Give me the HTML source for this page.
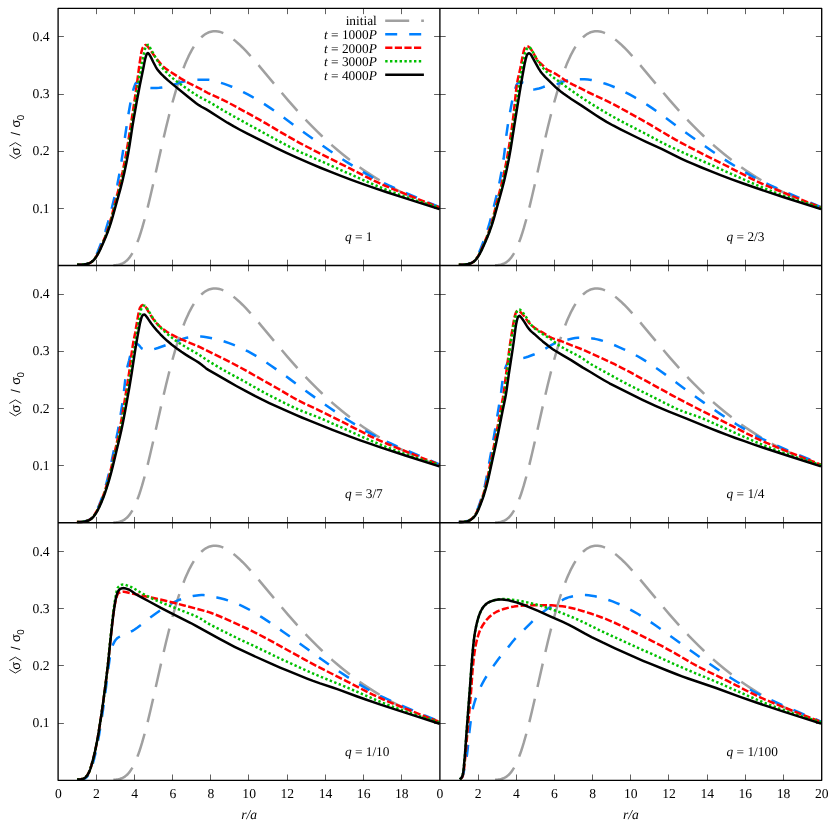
<!DOCTYPE html>
<html><head><meta charset="utf-8"><title>chart</title>
<style>html,body{margin:0;padding:0;background:#fff}svg{display:block;will-change:transform}text{text-rendering:geometricPrecision}</style></head>
<body>
<svg width="830" height="830" viewBox="0 0 830 830">
<rect width="830" height="830" fill="#fff"/>
<defs>
<clipPath id="c0"><rect x="58.30" y="8.15" width="381.70" height="258.45"/></clipPath>
<clipPath id="c1"><rect x="440.00" y="8.15" width="381.70" height="258.45"/></clipPath>
<clipPath id="c2"><rect x="58.30" y="265.40" width="381.70" height="258.45"/></clipPath>
<clipPath id="c3"><rect x="440.00" y="265.40" width="381.70" height="258.45"/></clipPath>
<clipPath id="c4"><rect x="58.30" y="522.65" width="381.70" height="258.45"/></clipPath>
<clipPath id="c5"><rect x="440.00" y="522.65" width="381.70" height="258.45"/></clipPath>
</defs>
<g clip-path="url(#c0)" fill="none" stroke-width="2.50" stroke-linejoin="round">
<path d="M101.38 265.40 L111.56 265.35 L114.28 265.24 L116.31 265.07 L118.35 264.76 L119.71 264.45 L121.74 263.78 L123.10 263.16 L124.46 262.37 L125.14 261.90 L126.49 260.81 L127.85 259.49 L129.21 257.92 L130.56 256.07 L131.92 253.94 L133.28 251.51 L134.64 248.78 L136.67 244.09 L138.03 240.57 L139.39 236.74 L140.74 232.62 L142.10 228.21 L144.81 218.61 L147.53 208.09 L150.24 196.83 L152.96 185.04 L162.54 142.44 L166.00 127.73 L168.78 116.47 L172.27 103.19 L175.07 93.31 L177.17 86.37 L178.57 81.98 L181.38 73.77 L182.78 69.95 L184.88 64.60 L186.29 61.27 L188.39 56.65 L189.79 53.80 L191.89 49.89 L193.99 46.40 L196.08 43.31 L197.48 41.47 L199.56 39.03 L201.64 36.95 L203.72 35.22 L205.78 33.82 L207.84 32.74 L209.90 31.95 L211.94 31.45 L213.29 31.27 L214.65 31.20 L216.01 31.23 L218.04 31.48 L219.40 31.77 L220.76 32.15 L222.12 32.61 L224.15 33.47 L225.51 34.13 L227.55 35.27 L230.94 37.49 L232.97 39.01 L235.01 40.64 L239.08 44.22 L242.47 47.49 L245.87 50.95 L249.26 54.59 L253.33 59.14 L260.80 67.81 L279.12 89.74 L287.94 100.09 L297.44 110.85 L302.19 116.04 L306.94 121.10 L312.37 126.69 L317.12 131.43 L321.87 136.02 L327.30 141.07 L332.05 145.34 L337.48 150.02 L342.90 154.52 L348.33 158.83 L353.08 162.45 L358.51 166.42 L363.94 170.22 L369.37 173.85 L374.80 177.33 L380.23 180.65 L385.66 183.83 L391.76 187.23 L397.19 190.12 L403.30 193.22 L409.41 196.16 L415.51 198.96 L421.62 201.62 L428.41 204.43 L434.51 206.82 L441.30 209.35" stroke="#a0a0a0" stroke-dasharray="24 12" stroke-dashoffset="24"/>
<path d="M77.10 264.80 L79.81 264.72 L83.41 264.46 L85.21 264.21 L87.83 263.60 L89.52 262.90 L91.05 261.96 L91.73 261.41 L92.99 260.08 L94.09 258.61 L95.47 256.36 L96.70 253.97 L97.81 251.47 L102.12 240.49 L103.66 236.24 L105.39 231.10 L108.02 222.48 L110.61 212.90 L114.72 196.24 L116.16 190.09 L117.31 184.80 L119.18 175.06 L121.14 163.49 L122.80 152.79 L125.43 134.03 L127.69 118.85 L128.85 111.73 L130.94 100.11 L132.22 93.86 L133.36 89.52 L134.18 87.01 L135.25 84.18 L135.72 83.28 L136.25 82.71 L136.84 82.62 L137.57 82.82 L138.41 83.18 L141.87 84.94 L144.26 86.28 L145.07 86.67 L146.75 87.21 L148.51 87.64 L150.31 87.93 L153.01 88.06 L156.62 88.09 L159.32 87.86 L162.90 87.37 L164.67 87.05 L167.32 86.46 L169.07 86.03 L171.67 85.27 L175.98 83.92 L180.26 82.46 L181.98 81.93 L183.72 81.50 L187.27 80.82 L191.75 80.22 L197.14 79.81 L202.30 79.67 L206.80 79.72 L208.80 79.85 L210.80 80.17 L214.30 80.94 L216.80 81.60 L220.80 82.79 L224.30 83.93 L228.30 85.37 L231.80 86.74 L235.30 88.24 L239.30 90.08 L243.30 92.07 L247.80 94.44 L252.30 96.92 L257.30 99.80 L261.80 102.51 L266.30 105.35 L270.80 108.35 L275.30 111.49 L280.80 115.49 L300.80 130.28 L323.80 146.55 L329.80 150.72 L339.30 157.15 L347.30 162.35 L357.30 168.56 L366.30 173.93 L371.80 177.03 L376.80 179.65 L382.30 182.34 L389.30 185.58 L397.30 189.15 L406.30 193.06 L439.30 207.07" stroke="#0080ff" stroke-dasharray="12 12" stroke-dashoffset="0"/>
<path d="M77.10 264.80 L80.01 264.71 L83.86 264.42 L86.76 263.98 L88.60 263.52 L89.51 263.15 L90.39 262.69 L91.98 261.64 L92.71 261.01 L94.05 259.55 L95.20 258.01 L96.72 255.60 L98.08 253.04 L99.73 249.49 L102.82 242.34 L105.01 236.96 L107.05 231.51 L108.88 226.01 L110.25 221.38 L111.51 216.72 L115.06 202.62 L118.51 189.52 L119.92 183.89 L122.65 171.61 L125.29 158.32 L126.83 149.75 L128.43 140.21 L133.20 109.62 L136.70 85.68 L139.30 65.52 L140.91 54.82 L141.44 51.89 L142.16 49.20 L142.46 48.39 L142.89 47.54 L143.52 46.62 L144.27 45.77 L145.06 45.14 L145.79 44.90 L146.48 45.14 L147.17 45.77 L150.32 49.90 L153.03 53.92 L157.62 60.16 L160.71 63.90 L162.01 65.34 L163.38 66.70 L165.61 68.53 L169.59 71.30 L181.02 78.60 L186.00 81.56 L189.42 83.36 L198.90 88.02 L200.90 89.10 L205.40 91.69 L207.90 93.01 L222.90 99.97 L227.40 102.17 L231.40 104.24 L237.40 107.49 L259.40 119.66 L266.40 123.70 L285.40 134.95 L292.90 139.20 L299.90 143.03 L307.40 146.99 L317.40 152.14 L330.40 158.72 L349.90 168.48 L369.40 178.47 L374.40 180.89 L379.90 183.44 L385.90 186.08 L391.90 188.60 L421.90 200.65 L429.90 203.75 L439.40 207.31" stroke="#ff0000" stroke-dasharray="7.2 2.4" stroke-dashoffset="0"/>
<path d="M77.10 264.80 L80.02 264.71 L83.88 264.42 L86.79 263.98 L88.64 263.51 L89.55 263.13 L90.43 262.67 L92.02 261.62 L92.76 260.99 L94.12 259.54 L95.30 258.02 L96.85 255.63 L98.25 253.08 L99.95 249.53 L103.12 242.39 L105.38 237.02 L107.47 231.57 L109.37 226.07 L110.52 222.38 L111.86 217.72 L115.83 202.68 L119.92 187.70 L121.57 181.11 L123.90 170.70 L125.28 164.04 L126.57 157.37 L128.72 144.94 L132.45 120.96 L136.76 94.13 L137.89 86.45 L138.71 79.69 L139.16 76.83 L139.63 74.95 L140.53 72.17 L140.77 71.24 L141.12 69.34 L141.92 63.56 L142.40 60.69 L143.19 56.89 L144.37 52.18 L144.91 49.29 L145.15 48.37 L145.47 47.44 L145.91 46.51 L146.46 45.74 L147.24 45.15 L148.15 44.80 L148.75 45.04 L149.26 45.73 L150.58 48.89 L151.07 49.78 L153.16 53.06 L155.88 58.20 L160.04 64.77 L161.14 66.36 L162.37 67.86 L164.98 70.74 L169.74 75.59 L171.88 77.55 L176.44 81.18 L181.91 85.21 L190.69 91.30 L196.37 95.04 L200.44 97.44 L206.44 100.46 L208.94 101.84 L223.94 110.79 L231.94 115.38 L269.44 136.02 L282.44 143.06 L288.44 146.20 L293.94 148.99 L298.94 151.40 L304.44 153.91 L322.44 161.77 L351.44 174.77 L365.44 180.97 L375.94 185.48 L385.94 189.58 L397.44 194.01 L408.44 197.93 L421.44 202.21 L439.44 207.84" stroke="#00c000" stroke-dasharray="2.4 2.4" stroke-dashoffset="0"/>
<path d="M77.10 264.80 L79.96 264.71 L83.76 264.43 L86.60 264.01 L88.43 263.58 L89.32 263.23 L90.19 262.80 L91.79 261.79 L93.24 260.55 L94.55 259.12 L96.21 256.87 L97.69 254.46 L99.04 251.92 L100.71 248.43 L103.46 242.34 L105.70 237.07 L107.78 231.74 L109.68 226.36 L111.14 221.83 L112.75 216.36 L120.39 188.81 L122.29 181.44 L124.43 172.16 L126.40 162.84 L128.17 153.49 L129.58 145.04 L132.33 127.16 L133.56 119.64 L136.70 101.83 L139.88 84.98 L143.33 68.20 L144.60 61.62 L145.22 58.84 L145.97 56.10 L146.61 54.26 L147.09 53.49 L147.88 53.01 L148.64 53.62 L149.24 54.35 L149.76 55.16 L151.14 57.67 L153.22 61.96 L155.88 67.04 L156.86 68.65 L158.57 70.93 L161.10 73.80 L163.78 76.49 L168.02 80.33 L173.11 84.63 L188.60 97.28 L196.11 103.15 L198.92 105.18 L201.42 106.74 L205.92 109.19 L208.42 110.66 L219.92 118.05 L227.42 122.70 L233.42 126.19 L239.92 129.76 L247.42 133.68 L256.42 138.21 L275.42 147.62 L285.92 152.63 L296.92 157.62 L308.92 162.87 L320.42 167.73 L331.42 172.21 L340.92 175.92 L351.42 179.85 L362.42 183.82 L373.92 187.82 L386.92 192.20 L401.92 197.13 L439.42 209.14" stroke="#000000"/>
</g>
<g clip-path="url(#c1)" fill="none" stroke-width="2.50" stroke-linejoin="round">
<path d="M483.08 265.40 L493.26 265.35 L495.98 265.24 L498.01 265.07 L500.05 264.76 L501.41 264.45 L503.44 263.78 L504.80 263.16 L506.16 262.37 L506.84 261.90 L508.19 260.81 L509.55 259.49 L510.91 257.92 L512.26 256.07 L513.62 253.94 L514.98 251.51 L516.34 248.78 L518.37 244.09 L519.73 240.57 L521.09 236.74 L522.44 232.62 L523.80 228.21 L526.51 218.61 L529.23 208.09 L531.94 196.83 L534.66 185.04 L544.24 142.44 L547.70 127.73 L550.48 116.47 L553.97 103.19 L556.77 93.31 L558.87 86.37 L560.27 81.98 L563.08 73.77 L564.48 69.95 L566.58 64.60 L567.99 61.27 L570.09 56.65 L571.49 53.80 L573.59 49.89 L575.69 46.40 L577.78 43.31 L579.18 41.47 L581.26 39.03 L583.34 36.95 L585.42 35.22 L587.48 33.82 L589.54 32.74 L591.60 31.95 L593.64 31.45 L594.99 31.27 L596.35 31.20 L597.71 31.23 L599.74 31.48 L601.10 31.77 L602.46 32.15 L603.82 32.61 L605.85 33.47 L607.21 34.13 L609.25 35.27 L612.64 37.49 L614.67 39.01 L616.71 40.64 L620.78 44.22 L624.17 47.49 L627.57 50.95 L630.96 54.59 L635.03 59.14 L642.50 67.81 L660.82 89.74 L669.64 100.09 L679.14 110.85 L683.89 116.04 L688.64 121.10 L694.07 126.69 L698.82 131.43 L703.57 136.02 L709.00 141.07 L713.75 145.34 L719.18 150.02 L724.60 154.52 L730.03 158.83 L734.78 162.45 L740.21 166.42 L745.64 170.22 L751.07 173.85 L756.50 177.33 L761.93 180.65 L767.36 183.83 L773.46 187.23 L778.89 190.12 L785.00 193.22 L791.11 196.16 L797.21 198.96 L803.32 201.62 L810.11 204.43 L816.21 206.82 L823.00 209.35" stroke="#a0a0a0" stroke-dasharray="24 12" stroke-dashoffset="24"/>
<path d="M458.80 264.80 L461.52 264.72 L465.12 264.46 L466.92 264.21 L469.55 263.60 L471.25 262.88 L472.77 261.95 L473.45 261.39 L474.72 260.05 L475.81 258.58 L477.19 256.32 L478.03 254.74 L479.17 252.27 L480.57 248.87 L483.53 241.26 L485.09 237.01 L486.55 232.73 L487.94 228.42 L489.50 223.24 L490.96 218.01 L492.57 211.89 L497.08 193.44 L498.48 187.27 L499.76 181.07 L501.90 169.52 L503.62 158.80 L504.56 151.64 L506.33 135.46 L507.87 124.72 L509.69 114.02 L511.86 102.42 L512.77 97.96 L513.60 94.43 L514.30 91.83 L515.08 89.27 L516.34 85.47 L516.74 84.54 L517.19 83.78 L517.69 83.26 L518.26 83.03 L519.06 82.87 L520.00 82.75 L521.98 82.61 L522.84 82.64 L523.65 82.90 L524.44 83.34 L527.52 85.55 L530.44 88.12 L531.18 88.68 L531.93 89.11 L532.71 89.36 L533.53 89.39 L535.29 89.23 L538.91 88.53 L540.63 88.01 L543.19 87.05 L544.91 86.52 L547.56 85.92 L554.68 84.58 L557.31 83.94 L559.01 83.36 L564.05 81.20 L565.75 80.64 L566.62 80.43 L570.17 79.84 L573.79 79.45 L580.02 79.31 L584.52 79.36 L588.02 79.58 L591.02 79.90 L593.52 80.36 L596.52 81.05 L601.02 82.33 L605.52 83.77 L609.52 85.19 L613.52 86.75 L617.02 88.24 L621.02 90.09 L625.02 92.08 L629.52 94.45 L634.02 96.93 L639.02 99.81 L643.52 102.52 L648.02 105.36 L652.52 108.36 L657.02 111.51 L662.52 115.50 L682.52 130.29 L705.52 146.56 L711.52 150.73 L721.02 157.16 L729.02 162.36 L739.02 168.57 L748.02 173.94 L753.52 177.04 L758.52 179.65 L764.02 182.34 L771.02 185.59 L779.02 189.16 L788.02 193.07 L821.02 207.08" stroke="#0080ff" stroke-dasharray="12 12" stroke-dashoffset="-2.0"/>
<path d="M458.80 264.80 L461.70 264.71 L465.55 264.42 L468.43 263.99 L470.27 263.53 L471.18 263.16 L472.06 262.71 L473.65 261.67 L474.37 261.04 L475.72 259.59 L476.87 258.05 L478.39 255.65 L479.75 253.10 L481.40 249.56 L484.85 241.54 L486.67 237.06 L488.71 231.63 L490.54 226.15 L491.91 221.53 L493.17 216.88 L496.71 202.82 L501.10 186.01 L503.28 176.61 L505.48 166.22 L507.12 157.69 L508.59 149.14 L510.11 139.61 L511.65 129.10 L512.96 119.54 L513.55 114.75 L516.10 90.73 L516.85 85.00 L517.60 80.25 L518.19 77.42 L520.00 69.90 L523.11 53.75 L523.76 50.93 L524.33 49.12 L524.73 48.18 L525.24 47.37 L525.94 46.78 L526.88 46.34 L527.76 46.41 L528.63 46.91 L530.12 48.17 L531.33 49.71 L532.40 51.32 L536.16 58.09 L536.67 58.90 L537.81 60.45 L539.73 62.63 L540.41 63.30 L543.29 65.88 L546.00 68.67 L546.74 69.26 L547.54 69.76 L551.91 71.86 L556.95 74.71 L559.39 76.27 L565.75 80.67 L569.04 82.65 L572.45 84.44 L580.76 88.48 L588.76 92.51 L603.76 99.40 L608.26 101.59 L612.76 103.90 L619.26 107.41 L642.26 120.14 L649.26 124.20 L669.26 136.08 L675.76 139.80 L682.26 143.37 L689.26 147.08 L698.76 151.96 L712.26 158.80 L731.76 168.56 L751.26 178.55 L756.26 180.97 L761.76 183.51 L767.76 186.15 L773.76 188.67 L803.76 200.71 L811.76 203.81 L821.26 207.37" stroke="#ff0000" stroke-dasharray="7.2 2.4" stroke-dashoffset="0"/>
<path d="M458.80 264.80 L461.70 264.71 L465.54 264.42 L468.43 263.99 L470.27 263.53 L471.17 263.17 L472.05 262.71 L473.65 261.68 L474.38 261.06 L475.74 259.63 L476.93 258.12 L478.48 255.75 L479.88 253.22 L481.57 249.70 L485.11 241.73 L487.34 236.37 L489.40 230.95 L491.26 225.49 L492.39 221.81 L493.71 217.17 L497.65 202.23 L502.20 185.48 L503.34 180.80 L504.84 174.21 L507.40 161.93 L509.48 150.55 L511.77 136.27 L514.75 116.23 L518.03 92.34 L519.74 80.90 L520.38 77.10 L522.49 65.72 L524.50 55.25 L525.22 52.48 L525.87 50.65 L526.30 49.74 L526.80 48.91 L527.38 48.21 L528.18 47.52 L529.03 47.20 L529.82 47.57 L530.59 48.33 L531.22 49.07 L531.76 49.85 L534.09 54.12 L537.23 60.10 L538.77 62.55 L540.47 64.89 L542.29 67.13 L545.52 70.72 L547.59 72.73 L549.80 74.61 L552.06 76.41 L554.37 78.15 L567.63 87.81 L576.30 93.91 L584.06 99.17 L591.06 103.67 L599.56 108.89 L608.06 113.89 L616.06 118.40 L626.06 123.75 L644.06 132.99 L660.56 141.81 L665.56 144.37 L671.06 147.05 L681.56 151.89 L703.56 161.51 L733.56 174.95 L748.06 181.38 L757.56 185.45 L766.06 188.95 L774.56 192.29 L782.56 195.27 L789.56 197.74 L797.56 200.41 L808.56 203.93 L821.06 207.82" stroke="#00c000" stroke-dasharray="2.4 2.4" stroke-dashoffset="0"/>
<path d="M458.80 264.80 L461.66 264.71 L465.46 264.43 L468.31 264.01 L470.14 263.57 L471.03 263.23 L471.90 262.79 L473.51 261.79 L474.96 260.54 L476.27 259.10 L477.93 256.85 L479.40 254.44 L480.75 251.90 L482.42 248.40 L485.18 242.30 L487.41 237.03 L489.49 231.69 L491.40 226.31 L492.85 221.78 L494.47 216.30 L502.12 188.73 L504.01 181.35 L506.36 171.13 L508.67 159.93 L510.55 149.62 L511.92 141.16 L514.83 122.31 L519.65 92.20 L522.20 77.17 L524.60 64.03 L525.63 59.39 L526.38 56.56 L526.69 55.66 L527.07 54.82 L527.61 54.06 L528.36 53.47 L529.27 53.20 L530.10 53.70 L530.71 54.42 L531.76 56.02 L538.70 68.53 L540.20 70.97 L541.30 72.51 L543.13 74.71 L545.07 76.81 L549.19 80.79 L555.28 86.83 L557.39 88.75 L560.34 91.15 L563.38 93.46 L568.03 96.79 L571.18 98.94 L581.55 105.60 L595.55 114.93 L600.05 117.85 L606.55 121.83 L613.05 125.47 L620.55 129.32 L638.05 138.00 L645.55 141.58 L661.55 148.95 L676.55 156.41 L681.55 158.82 L687.05 161.33 L693.05 163.94 L701.55 167.51 L710.55 171.18 L720.55 175.12 L731.05 179.09 L742.55 183.26 L754.05 187.28 L767.55 191.84 L783.05 196.95 L821.05 209.12" stroke="#000000"/>
</g>
<g clip-path="url(#c2)" fill="none" stroke-width="2.50" stroke-linejoin="round">
<path d="M101.38 522.65 L111.56 522.60 L114.28 522.49 L116.31 522.32 L118.35 522.01 L119.71 521.70 L121.74 521.03 L123.10 520.41 L124.46 519.62 L125.14 519.15 L126.49 518.06 L127.85 516.74 L129.21 515.17 L130.56 513.32 L131.92 511.19 L133.28 508.76 L134.64 506.03 L136.67 501.34 L138.03 497.82 L139.39 493.99 L140.74 489.87 L142.10 485.46 L144.81 475.86 L147.53 465.34 L150.24 454.08 L152.96 442.29 L162.54 399.69 L166.00 384.98 L168.78 373.72 L172.27 360.44 L175.07 350.56 L177.17 343.62 L178.57 339.23 L181.38 331.02 L182.78 327.20 L184.88 321.85 L186.29 318.52 L188.39 313.90 L189.79 311.05 L191.89 307.14 L193.99 303.65 L196.08 300.56 L197.48 298.72 L199.56 296.28 L201.64 294.20 L203.72 292.47 L205.78 291.07 L207.84 289.99 L209.90 289.20 L211.94 288.70 L213.29 288.52 L214.65 288.45 L216.01 288.48 L218.04 288.73 L219.40 289.02 L220.76 289.40 L222.12 289.86 L224.15 290.72 L225.51 291.38 L227.55 292.52 L230.94 294.74 L232.97 296.26 L235.01 297.89 L239.08 301.47 L242.47 304.74 L245.87 308.20 L249.26 311.84 L253.33 316.39 L260.80 325.06 L279.12 346.99 L287.94 357.34 L297.44 368.10 L302.19 373.29 L306.94 378.35 L312.37 383.94 L317.12 388.68 L321.87 393.27 L327.30 398.32 L332.05 402.59 L337.48 407.27 L342.90 411.77 L348.33 416.08 L353.08 419.70 L358.51 423.67 L363.94 427.47 L369.37 431.10 L374.80 434.58 L380.23 437.90 L385.66 441.08 L391.76 444.48 L397.19 447.37 L403.30 450.47 L409.41 453.41 L415.51 456.21 L421.62 458.87 L428.41 461.68 L434.51 464.07 L441.30 466.60" stroke="#a0a0a0" stroke-dasharray="24 12" stroke-dashoffset="24"/>
<path d="M76.58 522.05 L79.30 521.97 L82.89 521.71 L83.79 521.58 L85.58 521.19 L87.30 520.68 L88.13 520.36 L88.95 519.95 L90.49 518.95 L91.82 517.79 L93.01 516.40 L94.56 514.15 L95.92 511.85 L97.56 508.63 L99.05 505.29 L100.41 501.91 L101.98 497.69 L103.41 493.41 L105.00 488.22 L106.47 482.98 L108.06 476.86 L109.54 470.71 L112.23 458.35 L116.08 439.76 L117.83 430.89 L120.17 417.55 L122.25 404.15 L123.59 394.30 L125.45 378.14 L126.22 372.77 L126.85 369.22 L127.45 366.58 L129.07 360.46 L130.76 353.39 L131.45 350.78 L133.27 345.18 L133.66 344.19 L134.09 343.41 L134.58 342.94 L135.13 342.88 L135.87 343.14 L136.73 343.62 L138.39 344.71 L139.06 345.31 L140.88 347.49 L141.51 348.15 L142.18 348.67 L143.73 349.38 L145.48 349.97 L147.32 350.37 L148.22 350.44 L149.10 350.43 L149.98 350.31 L151.75 349.88 L157.83 348.03 L179.09 340.37 L183.36 338.73 L185.94 337.89 L186.80 337.68 L188.56 337.39 L193.94 336.79 L197.57 336.53 L201.09 336.47 L203.59 336.67 L206.59 337.15 L213.09 338.44 L217.09 339.38 L221.09 340.47 L225.09 341.70 L229.09 343.09 L233.09 344.62 L236.59 346.06 L240.59 347.82 L244.59 349.70 L248.09 351.46 L251.59 353.33 L255.09 355.34 L258.59 357.46 L262.59 360.00 L271.09 365.70 L280.59 372.35 L289.59 378.88 L301.09 387.52 L305.59 390.83 L322.59 402.95 L329.59 407.82 L339.09 414.25 L347.09 419.47 L356.59 425.37 L366.09 431.06 L371.59 434.16 L376.59 436.79 L382.09 439.48 L389.09 442.73 L397.09 446.31 L406.09 450.22 L439.59 464.44" stroke="#0080ff" stroke-dasharray="12 12" stroke-dashoffset="-3.8"/>
<path d="M76.79 522.05 L79.69 521.97 L83.52 521.66 L85.43 521.28 L87.28 520.76 L88.17 520.44 L89.05 520.02 L89.90 519.53 L91.43 518.40 L92.78 517.03 L93.40 516.27 L94.54 514.68 L96.04 512.26 L97.42 509.73 L99.09 506.22 L100.98 501.74 L102.69 497.26 L104.27 492.72 L105.73 488.12 L107.37 482.56 L108.90 476.99 L110.10 472.33 L111.46 466.71 L117.97 437.56 L119.36 430.96 L120.65 424.35 L122.81 412.02 L128.09 379.69 L129.33 371.12 L131.67 352.96 L132.79 345.34 L133.44 341.55 L135.15 333.05 L137.86 316.89 L138.39 314.05 L139.22 310.21 L139.78 308.37 L140.15 307.56 L140.69 306.70 L141.41 305.84 L142.20 305.23 L142.96 305.06 L143.77 305.39 L144.60 306.03 L146.01 307.50 L146.55 308.27 L149.98 314.14 L151.54 316.56 L153.21 318.94 L154.95 321.28 L156.17 322.77 L157.44 324.19 L158.79 325.52 L160.22 326.81 L161.71 328.05 L164.04 329.81 L167.21 331.98 L168.85 332.99 L171.37 334.41 L176.52 337.05 L180.89 339.07 L187.97 342.13 L196.89 345.78 L200.53 347.40 L207.53 350.96 L222.03 358.07 L231.53 362.84 L239.53 367.03 L246.53 370.88 L262.03 379.79 L278.03 388.75 L292.53 397.28 L298.53 400.60 L304.53 403.60 L317.03 409.38 L324.53 413.00 L349.53 425.54 L365.53 433.77 L371.53 436.76 L376.53 439.14 L381.53 441.41 L387.03 443.81 L393.03 446.32 L422.53 458.15 L430.53 461.24 L439.53 464.61" stroke="#ff0000" stroke-dasharray="7.2 2.4" stroke-dashoffset="0"/>
<path d="M76.99 522.05 L79.89 521.97 L83.71 521.66 L85.63 521.29 L87.48 520.77 L88.37 520.45 L89.25 520.04 L90.10 519.54 L91.64 518.42 L92.99 517.06 L93.62 516.31 L94.77 514.73 L96.28 512.32 L97.68 509.80 L99.37 506.31 L101.29 501.84 L103.04 497.38 L104.65 492.85 L106.44 487.35 L108.09 481.79 L109.65 476.24 L112.26 465.98 L118.96 436.89 L120.39 430.31 L121.72 423.70 L123.62 413.29 L129.70 378.19 L134.95 344.92 L137.58 328.76 L139.41 318.32 L140.34 312.39 L141.02 309.68 L141.31 308.86 L141.72 308.04 L142.37 307.14 L143.14 306.32 L143.93 305.77 L144.60 305.67 L145.23 305.97 L145.84 306.56 L146.43 307.38 L147.02 308.33 L148.16 310.33 L149.77 312.83 L152.72 317.81 L153.76 319.43 L156.08 322.48 L158.61 325.40 L162.58 329.59 L166.07 332.91 L168.24 334.81 L170.48 336.65 L175.08 340.14 L179.86 343.37 L186.40 347.45 L196.43 353.20 L199.48 355.02 L207.98 360.73 L213.48 364.15 L218.48 367.15 L227.48 372.28 L244.48 381.46 L257.98 389.17 L263.98 392.49 L270.98 396.14 L286.48 403.97 L291.48 406.43 L295.98 408.52 L302.48 411.26 L315.98 416.39 L322.98 419.26 L328.48 421.68 L344.98 429.12 L361.98 436.70 L370.98 440.63 L378.98 444.00 L385.98 446.85 L392.48 449.39 L398.98 451.83 L405.48 454.16 L411.98 456.38 L418.98 458.67 L439.48 465.10" stroke="#00c000" stroke-dasharray="2.4 2.4" stroke-dashoffset="0"/>
<path d="M77.10 522.05 L79.94 521.97 L83.69 521.68 L85.56 521.33 L87.39 520.83 L88.26 520.54 L89.13 520.16 L89.98 519.70 L91.53 518.63 L92.88 517.36 L93.51 516.64 L94.68 515.10 L96.21 512.77 L97.61 510.33 L99.33 506.95 L100.89 503.47 L103.04 498.24 L104.68 493.83 L106.50 488.46 L108.19 483.04 L109.78 477.61 L111.29 472.16 L112.70 466.68 L119.74 437.32 L121.40 429.97 L122.76 423.51 L125.41 409.61 L129.37 387.33 L131.68 373.37 L134.78 352.86 L136.11 344.48 L137.57 336.12 L140.02 323.13 L141.20 318.52 L141.83 316.68 L142.23 315.87 L142.75 315.16 L143.55 314.63 L144.47 314.45 L145.19 314.98 L146.42 316.52 L148.07 318.83 L151.25 323.52 L153.53 326.51 L156.59 330.11 L160.41 334.27 L163.72 337.64 L167.18 340.84 L171.55 344.43 L176.81 348.42 L181.42 351.72 L186.11 354.89 L189.31 356.88 L195.82 360.73 L198.81 362.63 L201.31 364.45 L205.81 368.16 L208.31 369.86 L215.31 373.80 L228.31 381.37 L236.81 386.22 L246.81 391.72 L255.31 396.22 L262.31 399.73 L269.31 403.04 L287.81 411.41 L296.31 415.16 L301.81 417.49 L308.31 420.15 L331.81 429.60 L342.31 433.70 L350.81 436.88 L360.31 440.32 L369.81 443.66 L379.81 447.07 L405.31 455.48 L439.31 466.36" stroke="#000000"/>
</g>
<g clip-path="url(#c3)" fill="none" stroke-width="2.50" stroke-linejoin="round">
<path d="M483.08 522.65 L493.26 522.60 L495.98 522.49 L498.01 522.32 L500.05 522.01 L501.41 521.70 L503.44 521.03 L504.80 520.41 L506.16 519.62 L506.84 519.15 L508.19 518.06 L509.55 516.74 L510.91 515.17 L512.26 513.32 L513.62 511.19 L514.98 508.76 L516.34 506.03 L518.37 501.34 L519.73 497.82 L521.09 493.99 L522.44 489.87 L523.80 485.46 L526.51 475.86 L529.23 465.34 L531.94 454.08 L534.66 442.29 L544.24 399.69 L547.70 384.98 L550.48 373.72 L553.97 360.44 L556.77 350.56 L558.87 343.62 L560.27 339.23 L563.08 331.02 L564.48 327.20 L566.58 321.85 L567.99 318.52 L570.09 313.90 L571.49 311.05 L573.59 307.14 L575.69 303.65 L577.78 300.56 L579.18 298.72 L581.26 296.28 L583.34 294.20 L585.42 292.47 L587.48 291.07 L589.54 289.99 L591.60 289.20 L593.64 288.70 L594.99 288.52 L596.35 288.45 L597.71 288.48 L599.74 288.73 L601.10 289.02 L602.46 289.40 L603.82 289.86 L605.85 290.72 L607.21 291.38 L609.25 292.52 L612.64 294.74 L614.67 296.26 L616.71 297.89 L620.78 301.47 L624.17 304.74 L627.57 308.20 L630.96 311.84 L635.03 316.39 L642.50 325.06 L660.82 346.99 L669.64 357.34 L679.14 368.10 L683.89 373.29 L688.64 378.35 L694.07 383.94 L698.82 388.68 L703.57 393.27 L709.00 398.32 L713.75 402.59 L719.18 407.27 L724.60 411.77 L730.03 416.08 L734.78 419.70 L740.21 423.67 L745.64 427.47 L751.07 431.10 L756.50 434.58 L761.93 437.90 L767.36 441.08 L773.46 444.48 L778.89 447.37 L785.00 450.47 L791.11 453.41 L797.21 456.21 L803.32 458.87 L810.11 461.68 L816.21 464.07 L823.00 466.60" stroke="#a0a0a0" stroke-dasharray="24 12" stroke-dashoffset="24"/>
<path d="M458.58 522.05 L461.24 521.97 L464.73 521.68 L465.61 521.52 L467.33 521.05 L468.96 520.45 L470.50 519.54 L471.88 518.46 L473.15 517.21 L474.26 515.82 L475.17 514.36 L475.98 512.84 L477.08 510.42 L478.06 507.93 L479.85 502.90 L481.77 497.04 L483.01 492.80 L483.92 489.39 L484.74 485.97 L485.67 481.67 L486.85 475.61 L492.40 445.25 L494.50 433.09 L500.48 396.55 L501.24 391.32 L502.51 380.81 L503.21 376.47 L504.15 372.13 L505.10 368.74 L506.31 365.41 L507.09 363.74 L507.53 362.97 L508.52 361.62 L509.13 361.04 L509.84 360.49 L510.62 359.99 L511.43 359.58 L512.23 359.27 L513.93 358.80 L515.69 358.49 L517.44 358.33 L521.85 358.10 L524.43 357.73 L526.14 357.30 L527.84 356.77 L534.46 354.24 L536.06 353.53 L538.43 352.35 L545.45 348.59 L550.80 345.41 L553.12 344.13 L554.69 343.37 L556.30 342.74 L558.79 341.93 L562.21 341.01 L572.57 338.57 L575.17 338.08 L577.79 337.85 L580.34 337.86 L586.34 337.99 L590.34 338.20 L592.34 338.43 L594.84 338.85 L597.34 339.38 L599.84 339.99 L602.84 340.85 L606.34 342.00 L609.84 343.29 L613.34 344.68 L618.34 346.79 L623.34 349.02 L627.84 351.13 L631.84 353.12 L636.84 355.79 L641.34 358.37 L645.84 361.15 L650.84 364.43 L658.34 369.58 L665.84 374.88 L671.84 379.27 L681.84 386.85 L686.34 390.17 L703.84 402.63 L710.34 407.17 L719.84 413.62 L727.84 418.86 L736.84 424.49 L746.34 430.21 L751.84 433.36 L757.34 436.30 L762.84 439.03 L769.84 442.30 L778.34 446.11 L787.34 450.03 L820.84 464.25" stroke="#0080ff" stroke-dasharray="12 12" stroke-dashoffset="0"/>
<path d="M458.79 522.05 L461.67 521.96 L464.50 521.74 L466.38 521.39 L468.22 520.83 L469.09 520.50 L469.94 520.06 L471.53 518.97 L472.96 517.72 L474.25 516.27 L475.31 514.73 L476.23 513.11 L477.07 511.41 L478.21 508.75 L480.58 502.46 L481.85 498.86 L483.31 494.32 L484.39 490.65 L485.84 485.13 L487.11 479.57 L493.57 447.80 L496.11 434.70 L500.36 411.26 L503.00 397.21 L503.61 393.45 L504.14 389.68 L507.60 362.26 L509.89 345.26 L511.17 336.78 L513.02 325.49 L514.17 318.91 L514.54 317.03 L515.00 315.19 L515.61 313.34 L516.01 312.44 L516.50 311.67 L517.20 310.99 L518.06 310.78 L518.96 311.15 L519.79 311.63 L520.54 312.22 L522.57 314.25 L524.41 316.45 L526.55 319.60 L528.91 322.61 L530.85 324.70 L532.28 325.95 L534.55 327.70 L536.93 329.29 L538.56 330.28 L542.72 332.60 L547.54 335.73 L550.00 337.16 L551.71 337.93 L553.48 338.61 L559.85 340.70 L562.54 341.68 L572.27 345.58 L582.09 349.39 L601.59 358.10 L608.59 361.35 L614.59 364.24 L622.59 368.26 L630.09 372.21 L672.59 395.57 L684.09 401.72 L706.59 413.19 L732.59 426.23 L748.59 434.46 L757.09 438.61 L766.59 442.89 L777.09 447.28 L804.59 458.29 L812.59 461.38 L821.09 464.56" stroke="#ff0000" stroke-dasharray="7.2 2.4" stroke-dashoffset="0"/>
<path d="M458.99 522.05 L461.88 521.96 L464.73 521.74 L466.62 521.39 L468.47 520.82 L469.34 520.48 L470.19 520.04 L471.80 518.94 L473.22 517.69 L474.52 516.23 L475.59 514.69 L476.53 513.06 L477.78 510.47 L478.91 507.78 L480.97 502.38 L482.26 498.77 L483.77 494.21 L485.13 489.62 L486.59 484.07 L487.88 478.47 L494.58 446.59 L497.21 433.44 L501.49 410.85 L504.25 396.75 L505.00 392.02 L505.73 386.32 L507.26 372.99 L509.18 354.88 L510.24 346.33 L510.95 341.61 L512.41 334.08 L513.78 325.57 L514.45 321.80 L515.62 316.17 L516.58 312.35 L516.89 311.45 L517.30 310.71 L518.03 309.98 L518.91 309.49 L519.74 309.60 L520.57 310.20 L521.98 311.51 L522.60 312.24 L525.45 316.13 L527.04 318.52 L529.06 321.79 L530.70 324.15 L531.89 325.65 L532.53 326.35 L533.91 327.68 L535.38 328.93 L536.89 330.09 L543.22 334.43 L548.92 337.96 L551.31 339.55 L556.60 343.69 L558.92 345.37 L561.36 346.87 L563.87 348.27 L569.78 351.46 L577.44 355.44 L580.58 357.20 L583.08 358.77 L587.08 361.64 L589.08 363.00 L591.08 364.23 L594.58 366.25 L619.08 379.73 L629.08 385.04 L653.58 397.32 L669.08 405.19 L676.08 408.55 L679.58 410.06 L683.08 411.44 L686.58 412.71 L697.58 416.50 L701.08 417.81 L705.08 419.43 L710.58 421.83 L726.08 428.85 L742.58 436.22 L751.58 440.16 L759.58 443.55 L766.58 446.41 L773.58 449.16 L780.58 451.80 L787.08 454.13 L793.58 456.35 L800.58 458.64 L821.08 465.08" stroke="#00c000" stroke-dasharray="2.4 2.4" stroke-dashoffset="0"/>
<path d="M459.10 522.05 L461.95 521.96 L464.75 521.74 L466.62 521.41 L468.45 520.87 L469.31 520.55 L470.16 520.13 L471.76 519.07 L473.19 517.87 L474.50 516.46 L475.59 514.95 L476.54 513.37 L477.82 510.85 L478.96 508.22 L481.39 502.03 L482.68 498.48 L484.19 494.00 L485.57 489.48 L487.05 484.03 L488.37 478.52 L495.45 446.24 L497.97 434.23 L502.55 411.08 L505.22 398.13 L505.90 394.42 L506.50 390.70 L508.72 374.80 L512.73 348.68 L513.67 342.14 L515.53 328.10 L516.11 324.37 L516.86 320.65 L517.35 318.81 L517.65 317.93 L518.02 317.07 L518.56 316.29 L519.39 315.85 L520.19 316.35 L520.84 317.01 L521.42 317.77 L522.55 319.29 L524.15 321.63 L526.63 325.65 L527.70 327.20 L529.41 329.47 L530.68 330.84 L532.07 332.11 L534.25 333.94 L539.16 338.37 L542.76 341.42 L547.90 345.58 L552.45 348.94 L554.81 350.50 L562.90 355.37 L571.07 360.10 L582.45 367.32 L589.95 371.78 L598.95 377.27 L604.45 380.49 L609.45 383.28 L614.45 385.92 L634.95 396.18 L642.45 399.87 L648.95 402.94 L655.45 405.88 L662.45 408.89 L668.95 411.58 L685.95 418.42 L710.95 428.58 L718.95 431.75 L726.45 434.62 L735.45 437.96 L744.45 441.19 L753.45 444.33 L763.45 447.72 L787.95 455.79 L820.95 466.34" stroke="#000000"/>
</g>
<g clip-path="url(#c4)" fill="none" stroke-width="2.50" stroke-linejoin="round">
<path d="M101.38 779.90 L111.56 779.85 L114.28 779.74 L116.31 779.57 L118.35 779.26 L119.71 778.95 L121.74 778.28 L123.10 777.66 L124.46 776.87 L125.14 776.40 L126.49 775.31 L127.85 773.99 L129.21 772.42 L130.56 770.57 L131.92 768.44 L133.28 766.01 L134.64 763.28 L136.67 758.59 L138.03 755.07 L139.39 751.24 L140.74 747.12 L142.10 742.71 L144.81 733.11 L147.53 722.59 L150.24 711.33 L152.96 699.54 L162.54 656.94 L166.00 642.23 L168.78 630.97 L172.27 617.69 L175.07 607.81 L177.17 600.87 L178.57 596.48 L181.38 588.27 L182.78 584.45 L184.88 579.10 L186.29 575.77 L188.39 571.15 L189.79 568.30 L191.89 564.39 L193.99 560.90 L196.08 557.81 L197.48 555.97 L199.56 553.53 L201.64 551.45 L203.72 549.72 L205.78 548.32 L207.84 547.24 L209.90 546.45 L211.94 545.95 L213.29 545.77 L214.65 545.70 L216.01 545.73 L218.04 545.98 L219.40 546.27 L220.76 546.65 L222.12 547.11 L224.15 547.97 L225.51 548.63 L227.55 549.77 L230.94 551.99 L232.97 553.51 L235.01 555.14 L239.08 558.72 L242.47 561.99 L245.87 565.45 L249.26 569.09 L253.33 573.64 L260.80 582.31 L279.12 604.24 L287.94 614.59 L297.44 625.35 L302.19 630.54 L306.94 635.60 L312.37 641.19 L317.12 645.93 L321.87 650.52 L327.30 655.57 L332.05 659.84 L337.48 664.52 L342.90 669.02 L348.33 673.33 L353.08 676.95 L358.51 680.92 L363.94 684.72 L369.37 688.35 L374.80 691.83 L380.23 695.15 L385.66 698.33 L391.76 701.73 L397.19 704.62 L403.30 707.72 L409.41 710.66 L415.51 713.46 L421.62 716.12 L428.41 718.93 L434.51 721.32 L441.30 723.85" stroke="#a0a0a0" stroke-dasharray="24 12" stroke-dashoffset="24"/>
<path d="M78.00 779.60 L79.90 779.52 L81.68 779.29 L83.31 778.96 L84.79 778.52 L85.50 778.10 L86.19 777.55 L87.48 776.17 L88.55 774.68 L89.38 773.27 L90.11 771.76 L90.76 770.16 L91.35 768.50 L92.15 765.94 L94.04 759.16 L95.68 752.40 L97.46 743.88 L99.04 735.33 L100.58 725.89 L102.54 713.00 L104.24 700.95 L105.61 690.60 L108.13 669.89 L109.56 659.54 L110.25 655.25 L111.10 651.00 L111.75 648.45 L112.26 646.77 L112.84 645.14 L113.49 643.56 L114.74 641.20 L115.75 639.76 L116.88 638.54 L117.55 638.00 L119.03 637.03 L120.57 636.16 L122.11 635.39 L123.70 634.70 L128.59 632.78 L130.17 632.07 L132.45 630.84 L134.65 629.46 L137.51 627.46 L141.73 624.36 L149.89 617.85 L156.17 613.19 L159.02 611.19 L162.64 608.79 L165.57 606.90 L168.55 605.09 L171.59 603.41 L174.70 601.88 L177.89 600.46 L180.32 599.51 L184.44 598.14 L187.79 597.16 L190.34 596.54 L192.89 596.07 L198.82 595.23 L201.32 595.06 L203.32 595.07 L205.82 595.31 L208.32 595.70 L216.82 597.43 L220.32 598.25 L224.32 599.30 L227.82 600.34 L231.32 601.51 L234.82 602.81 L238.32 604.25 L241.82 605.82 L245.32 607.53 L250.32 610.21 L255.32 613.13 L261.32 616.88 L267.82 621.13 L273.82 625.23 L282.32 631.22 L306.32 648.33 L321.82 659.61 L331.82 666.58 L340.32 672.32 L347.32 676.87 L355.82 682.15 L364.82 687.57 L370.32 690.72 L375.82 693.65 L381.32 696.37 L388.32 699.63 L396.82 703.44 L405.82 707.36 L439.32 721.58" stroke="#0080ff" stroke-dasharray="12 12" stroke-dashoffset="0"/>
<path d="M77.10 779.60 L79.09 779.51 L80.94 779.26 L83.41 778.70 L84.16 778.38 L84.90 777.88 L85.61 777.25 L86.29 776.52 L87.47 774.96 L88.37 773.47 L89.14 771.90 L89.83 770.23 L90.45 768.49 L91.29 765.81 L92.79 760.47 L94.14 755.18 L95.15 750.73 L96.09 746.26 L97.30 740.00 L98.26 734.62 L100.96 717.52 L103.30 701.28 L105.45 685.02 L107.13 671.46 L108.26 661.50 L110.09 643.37 L112.32 622.53 L113.33 614.39 L114.54 606.27 L115.21 602.67 L115.81 600.02 L116.83 596.29 L117.53 594.44 L117.94 593.71 L118.41 593.17 L119.01 592.79 L119.81 592.45 L120.75 592.15 L121.75 591.93 L122.72 591.81 L123.61 591.81 L125.40 592.05 L129.88 593.12 L140.59 595.30 L151.28 597.59 L164.62 600.56 L171.72 602.24 L184.07 605.43 L206.33 611.35 L208.83 612.14 L211.33 613.02 L218.33 615.77 L227.33 619.57 L237.83 624.28 L247.83 629.00 L257.83 633.97 L264.33 637.35 L271.33 641.11 L303.83 659.09 L315.33 665.30 L323.33 669.44 L346.33 681.08 L365.33 690.93 L372.83 694.65 L377.83 696.99 L382.83 699.24 L388.33 701.61 L393.83 703.90 L422.33 715.32 L430.33 718.42 L439.33 721.79" stroke="#ff0000" stroke-dasharray="7.2 2.4" stroke-dashoffset="0"/>
<path d="M77.10 779.60 L79.12 779.51 L81.00 779.25 L83.49 778.67 L84.25 778.32 L85.00 777.80 L85.72 777.14 L86.40 776.39 L87.57 774.81 L88.46 773.30 L89.24 771.69 L89.93 769.99 L90.55 768.21 L91.38 765.48 L92.90 760.07 L94.47 753.79 L95.66 748.36 L96.75 742.91 L97.77 737.46 L98.70 731.99 L101.53 713.70 L104.10 695.38 L106.25 678.87 L107.67 666.93 L108.42 659.57 L110.13 641.15 L112.44 619.07 L113.69 608.98 L114.91 600.73 L116.62 591.38 L117.08 589.55 L117.68 588.02 L118.08 587.38 L118.68 586.71 L119.44 586.06 L120.30 585.46 L121.22 584.98 L122.14 584.64 L123.02 584.50 L123.87 584.55 L125.64 584.94 L127.46 585.57 L130.94 586.96 L132.59 587.74 L134.22 588.61 L140.60 592.46 L143.03 593.82 L150.44 597.63 L155.45 600.02 L161.40 602.53 L191.55 614.46 L196.65 616.64 L198.88 617.72 L200.88 618.81 L206.88 622.79 L210.38 624.73 L218.88 629.06 L237.88 638.47 L245.88 642.30 L262.38 649.95 L277.38 657.25 L283.38 660.10 L305.38 670.09 L313.38 673.65 L320.88 676.82 L335.88 682.86 L343.88 686.16 L352.88 689.98 L375.38 699.75 L383.38 703.06 L391.38 706.22 L401.38 709.96 L410.88 713.26 L422.88 717.17 L439.38 722.33" stroke="#00c000" stroke-dasharray="2.4 2.4" stroke-dashoffset="0"/>
<path d="M77.10 779.60 L79.11 779.51 L80.97 779.26 L83.45 778.68 L84.21 778.35 L84.95 777.84 L85.67 777.19 L86.34 776.45 L87.52 774.88 L88.42 773.38 L89.19 771.79 L89.88 770.11 L90.50 768.35 L91.34 765.64 L92.84 760.26 L94.20 754.93 L95.22 750.44 L96.33 745.03 L97.37 739.62 L98.33 734.20 L101.05 716.96 L103.39 700.60 L105.79 682.39 L107.56 667.81 L108.46 659.59 L110.30 641.32 L112.61 620.32 L113.66 612.12 L115.14 602.08 L115.84 598.47 L116.49 595.84 L117.36 593.05 L118.13 591.28 L118.59 590.52 L119.09 589.91 L119.69 589.40 L120.49 588.90 L121.40 588.47 L122.34 588.19 L123.23 588.10 L124.12 588.18 L125.94 588.58 L128.58 589.46 L130.19 590.23 L131.74 591.21 L135.53 593.95 L137.89 595.37 L141.10 597.15 L149.20 601.48 L160.46 607.69 L168.60 611.94 L185.88 620.51 L190.78 623.02 L196.43 626.09 L219.56 638.92 L227.56 643.20 L234.56 646.80 L242.06 650.49 L250.06 654.23 L271.06 663.64 L280.06 667.58 L287.56 670.72 L298.56 675.18 L307.06 678.59 L313.06 680.89 L320.06 683.39 L332.56 687.52 L338.06 689.41 L356.56 696.21 L365.06 699.25 L379.06 704.07 L396.56 709.88 L413.56 715.39 L439.56 723.69" stroke="#000000"/>
</g>
<g clip-path="url(#c5)" fill="none" stroke-width="2.50" stroke-linejoin="round">
<path d="M483.08 779.90 L493.26 779.85 L495.98 779.74 L498.01 779.57 L500.05 779.26 L501.41 778.95 L503.44 778.28 L504.80 777.66 L506.16 776.87 L506.84 776.40 L508.19 775.31 L509.55 773.99 L510.91 772.42 L512.26 770.57 L513.62 768.44 L514.98 766.01 L516.34 763.28 L518.37 758.59 L519.73 755.07 L521.09 751.24 L522.44 747.12 L523.80 742.71 L526.51 733.11 L529.23 722.59 L531.94 711.33 L534.66 699.54 L544.24 656.94 L547.70 642.23 L550.48 630.97 L553.97 617.69 L556.77 607.81 L558.87 600.87 L560.27 596.48 L563.08 588.27 L564.48 584.45 L566.58 579.10 L567.99 575.77 L570.09 571.15 L571.49 568.30 L573.59 564.39 L575.69 560.90 L577.78 557.81 L579.18 555.97 L581.26 553.53 L583.34 551.45 L585.42 549.72 L587.48 548.32 L589.54 547.24 L591.60 546.45 L593.64 545.95 L594.99 545.77 L596.35 545.70 L597.71 545.73 L599.74 545.98 L601.10 546.27 L602.46 546.65 L603.82 547.11 L605.85 547.97 L607.21 548.63 L609.25 549.77 L612.64 551.99 L614.67 553.51 L616.71 555.14 L620.78 558.72 L624.17 561.99 L627.57 565.45 L630.96 569.09 L635.03 573.64 L642.50 582.31 L660.82 604.24 L669.64 614.59 L679.14 625.35 L683.89 630.54 L688.64 635.60 L694.07 641.19 L698.82 645.93 L703.57 650.52 L709.00 655.57 L713.75 659.84 L719.18 664.52 L724.60 669.02 L730.03 673.33 L734.78 676.95 L740.21 680.92 L745.64 684.72 L751.07 688.35 L756.50 691.83 L761.93 695.15 L767.36 698.33 L773.46 701.73 L778.89 704.62 L785.00 707.72 L791.11 710.66 L797.21 713.46 L803.32 716.12 L810.11 718.93 L816.21 721.32 L823.00 723.85" stroke="#a0a0a0" stroke-dasharray="24 12" stroke-dashoffset="24"/>
<path d="M459.85 779.40 L461.16 778.18 L461.76 777.54 L462.25 776.87 L462.61 776.17 L463.13 774.66 L463.70 772.21 L464.75 766.17 L466.50 757.82 L467.02 754.46 L467.66 749.40 L469.53 730.74 L470.80 720.59 L471.40 716.36 L472.09 712.16 L472.74 708.84 L473.34 706.35 L474.52 702.24 L475.85 698.20 L477.03 695.01 L478.36 691.86 L480.51 687.21 L482.42 683.41 L484.48 679.68 L487.11 675.30 L489.44 671.73 L493.31 666.12 L496.29 661.96 L498.84 658.55 L501.49 655.22 L508.07 647.40 L512.32 642.06 L514.50 639.44 L516.20 637.54 L517.97 635.71 L523.46 630.34 L529.46 624.30 L535.58 618.35 L538.70 615.45 L540.63 613.78 L542.63 612.20 L546.80 609.25 L553.99 604.67 L556.94 602.94 L559.18 601.72 L564.54 598.98 L566.10 598.25 L567.68 597.61 L570.09 596.90 L575.91 595.79 L578.47 595.41 L581.04 595.15 L583.54 595.04 L585.54 595.08 L588.54 595.32 L591.54 595.71 L595.04 596.30 L597.54 596.83 L601.04 597.73 L605.04 598.89 L608.54 600.02 L612.54 601.44 L616.04 602.80 L619.54 604.28 L623.04 605.89 L626.54 607.62 L632.04 610.57 L638.04 614.04 L644.04 617.73 L650.54 621.95 L656.04 625.69 L662.54 630.26 L694.04 653.01 L703.54 659.66 L716.04 668.28 L723.54 673.32 L730.04 677.51 L738.54 682.77 L747.04 687.87 L752.54 691.00 L757.54 693.66 L763.04 696.38 L770.04 699.64 L778.54 703.45 L787.54 707.36 L821.04 721.59" stroke="#0080ff" stroke-dasharray="12 12" stroke-dashoffset="0"/>
<path d="M460.06 779.40 L461.38 778.09 L461.98 777.41 L462.44 776.70 L462.95 775.18 L463.33 773.56 L463.64 771.85 L464.02 769.18 L465.50 754.98 L466.97 737.41 L470.68 696.18 L471.32 688.28 L472.39 672.46 L473.46 661.05 L474.42 653.17 L474.94 649.70 L475.53 646.23 L476.25 642.74 L476.86 640.14 L477.55 637.57 L478.30 635.05 L479.43 631.78 L480.47 629.37 L481.71 626.98 L483.58 623.92 L485.63 621.07 L487.29 619.07 L488.51 617.76 L489.80 616.50 L491.85 614.75 L494.00 613.25 L496.24 611.99 L498.64 610.87 L501.15 609.88 L503.68 609.04 L507.91 607.88 L511.36 607.09 L513.97 606.61 L518.33 606.08 L524.47 605.49 L528.88 605.21 L532.40 605.10 L542.09 605.16 L551.78 605.36 L556.17 605.67 L562.31 606.34 L565.79 606.85 L570.11 607.70 L573.54 608.49 L577.80 609.61 L583.16 611.18 L590.66 613.54 L596.16 615.40 L601.16 617.21 L605.66 618.95 L610.16 620.80 L614.66 622.76 L619.66 625.05 L631.16 630.59 L652.66 641.31 L661.66 645.95 L670.16 650.55 L677.66 654.81 L691.66 663.02 L698.66 666.86 L705.16 670.12 L718.66 676.57 L726.66 680.49 L734.16 684.27 L748.16 691.49 L755.66 695.18 L760.16 697.28 L765.16 699.52 L770.66 701.88 L776.16 704.15 L804.16 715.37 L812.16 718.46 L821.16 721.83" stroke="#ff0000" stroke-dasharray="7.2 2.4" stroke-dashoffset="0"/>
<path d="M459.85 779.40 L461.20 778.05 L461.79 777.35 L462.24 776.61 L462.71 775.04 L463.06 773.37 L463.35 771.61 L463.69 768.87 L464.99 754.33 L466.12 738.14 L469.92 687.83 L471.25 668.95 L472.49 653.67 L473.35 644.70 L474.19 637.55 L475.00 632.19 L476.01 626.86 L476.80 623.34 L477.70 619.88 L478.48 617.25 L479.39 614.60 L480.42 612.04 L481.20 610.42 L482.48 608.18 L483.50 606.78 L484.73 605.38 L486.12 604.08 L487.60 602.95 L489.12 602.08 L490.69 601.42 L493.24 600.55 L495.93 599.86 L497.75 599.52 L499.55 599.30 L503.15 599.03 L504.95 599.00 L507.64 599.15 L510.32 599.47 L518.35 600.71 L521.91 601.32 L526.34 602.18 L534.25 603.95 L540.32 605.64 L544.63 606.99 L551.47 609.26 L555.72 610.75 L560.80 612.62 L570.02 616.27 L577.45 619.50 L587.82 624.38 L601.32 631.05 L610.32 635.32 L674.32 664.13 L684.32 668.52 L692.82 672.16 L712.82 680.39 L719.32 683.13 L745.32 694.68 L756.82 699.64 L764.32 702.75 L771.82 705.73 L778.82 708.40 L785.82 710.93 L792.32 713.17 L799.82 715.64 L820.82 722.25" stroke="#00c000" stroke-dasharray="2.4 2.4" stroke-dashoffset="0"/>
<path d="M459.85 779.40 L461.20 778.05 L461.79 777.35 L462.24 776.61 L462.71 775.05 L463.06 773.37 L463.35 771.61 L463.69 768.87 L464.99 754.34 L466.11 738.16 L469.92 687.87 L471.25 669.00 L472.49 653.73 L473.25 645.65 L474.07 638.51 L474.84 633.15 L475.81 627.81 L476.58 624.28 L477.44 620.81 L478.18 618.20 L479.04 615.55 L480.03 612.95 L480.77 611.29 L482.00 608.96 L482.92 607.54 L484.04 606.13 L485.35 604.76 L486.78 603.52 L488.29 602.50 L489.82 601.78 L492.30 600.86 L494.97 600.09 L496.80 599.73 L498.62 599.53 L499.51 599.50 L502.20 599.61 L506.69 600.06 L508.46 600.34 L510.23 600.72 L516.32 602.41 L519.74 603.48 L523.98 605.03 L529.00 607.06 L538.13 610.92 L549.60 616.17 L562.80 621.98 L568.51 624.62 L573.32 627.07 L585.06 633.65 L591.56 637.05 L603.06 642.74 L615.06 648.34 L633.56 656.67 L643.06 660.79 L650.06 663.68 L667.06 670.52 L676.56 674.26 L682.06 676.32 L688.06 678.45 L716.06 688.05 L740.06 696.87 L755.56 702.30 L768.56 706.68 L783.56 711.61 L821.06 723.62" stroke="#000000"/>
</g>
<path d="M96.50 265.50 v-5.80 M96.50 8.35 v5.80 M134.50 265.50 v-5.80 M134.50 8.35 v5.80 M172.50 265.50 v-5.80 M172.50 8.35 v5.80 M210.50 265.50 v-5.80 M210.50 8.35 v5.80 M248.50 265.50 v-5.80 M248.50 8.35 v5.80 M287.50 265.50 v-5.80 M287.50 8.35 v5.80 M325.50 265.50 v-5.80 M325.50 8.35 v5.80 M363.50 265.50 v-5.80 M363.50 8.35 v5.80 M401.50 265.50 v-5.80 M401.50 8.35 v5.80 M58.10 208.50 h5.80 M439.90 208.50 h-5.80 M58.10 151.50 h5.80 M439.90 151.50 h-5.80 M58.10 94.50 h5.80 M439.90 94.50 h-5.80 M58.10 36.50 h5.80 M439.90 36.50 h-5.80 M478.50 265.50 v-5.80 M478.50 8.35 v5.80 M516.50 265.50 v-5.80 M516.50 8.35 v5.80 M554.50 265.50 v-5.80 M554.50 8.35 v5.80 M592.50 265.50 v-5.80 M592.50 8.35 v5.80 M630.50 265.50 v-5.80 M630.50 8.35 v5.80 M668.50 265.50 v-5.80 M668.50 8.35 v5.80 M707.50 265.50 v-5.80 M707.50 8.35 v5.80 M745.50 265.50 v-5.80 M745.50 8.35 v5.80 M783.50 265.50 v-5.80 M783.50 8.35 v5.80 M439.90 208.50 h5.80 M821.70 208.50 h-5.80 M439.90 151.50 h5.80 M821.70 151.50 h-5.80 M439.90 94.50 h5.80 M821.70 94.50 h-5.80 M439.90 36.50 h5.80 M821.70 36.50 h-5.80 M96.50 522.75 v-5.80 M96.50 265.50 v5.80 M134.50 522.75 v-5.80 M134.50 265.50 v5.80 M172.50 522.75 v-5.80 M172.50 265.50 v5.80 M210.50 522.75 v-5.80 M210.50 265.50 v5.80 M248.50 522.75 v-5.80 M248.50 265.50 v5.80 M287.50 522.75 v-5.80 M287.50 265.50 v5.80 M325.50 522.75 v-5.80 M325.50 265.50 v5.80 M363.50 522.75 v-5.80 M363.50 265.50 v5.80 M401.50 522.75 v-5.80 M401.50 265.50 v5.80 M58.10 465.50 h5.80 M439.90 465.50 h-5.80 M58.10 408.50 h5.80 M439.90 408.50 h-5.80 M58.10 351.50 h5.80 M439.90 351.50 h-5.80 M58.10 294.50 h5.80 M439.90 294.50 h-5.80 M478.50 522.75 v-5.80 M478.50 265.50 v5.80 M516.50 522.75 v-5.80 M516.50 265.50 v5.80 M554.50 522.75 v-5.80 M554.50 265.50 v5.80 M592.50 522.75 v-5.80 M592.50 265.50 v5.80 M630.50 522.75 v-5.80 M630.50 265.50 v5.80 M668.50 522.75 v-5.80 M668.50 265.50 v5.80 M707.50 522.75 v-5.80 M707.50 265.50 v5.80 M745.50 522.75 v-5.80 M745.50 265.50 v5.80 M783.50 522.75 v-5.80 M783.50 265.50 v5.80 M439.90 465.50 h5.80 M821.70 465.50 h-5.80 M439.90 408.50 h5.80 M821.70 408.50 h-5.80 M439.90 351.50 h5.80 M821.70 351.50 h-5.80 M439.90 294.50 h5.80 M821.70 294.50 h-5.80 M96.50 780.30 v-5.80 M96.50 522.75 v5.80 M134.50 780.30 v-5.80 M134.50 522.75 v5.80 M172.50 780.30 v-5.80 M172.50 522.75 v5.80 M210.50 780.30 v-5.80 M210.50 522.75 v5.80 M248.50 780.30 v-5.80 M248.50 522.75 v5.80 M287.50 780.30 v-5.80 M287.50 522.75 v5.80 M325.50 780.30 v-5.80 M325.50 522.75 v5.80 M363.50 780.30 v-5.80 M363.50 522.75 v5.80 M401.50 780.30 v-5.80 M401.50 522.75 v5.80 M58.10 723.50 h5.80 M439.90 723.50 h-5.80 M58.10 665.50 h5.80 M439.90 665.50 h-5.80 M58.10 608.50 h5.80 M439.90 608.50 h-5.80 M58.10 551.50 h5.80 M439.90 551.50 h-5.80 M478.50 780.30 v-5.80 M478.50 522.75 v5.80 M516.50 780.30 v-5.80 M516.50 522.75 v5.80 M554.50 780.30 v-5.80 M554.50 522.75 v5.80 M592.50 780.30 v-5.80 M592.50 522.75 v5.80 M630.50 780.30 v-5.80 M630.50 522.75 v5.80 M668.50 780.30 v-5.80 M668.50 522.75 v5.80 M707.50 780.30 v-5.80 M707.50 522.75 v5.80 M745.50 780.30 v-5.80 M745.50 522.75 v5.80 M783.50 780.30 v-5.80 M783.50 522.75 v5.80 M439.90 723.50 h5.80 M821.70 723.50 h-5.80 M439.90 665.50 h5.80 M821.70 665.50 h-5.80 M439.90 608.50 h5.80 M821.70 608.50 h-5.80 M439.90 551.50 h5.80 M821.70 551.50 h-5.80" stroke="#000" stroke-opacity="0.62" stroke-width="1" fill="none"/>
<path d="M58.10 8.35 H821.70 M58.10 265.50 H821.70 M58.10 522.75 H821.70 M58.10 780.30 H821.70 M58.10 8.35 V780.30 M439.90 8.35 V780.30 M821.70 8.35 V780.30" stroke="#000" stroke-width="1.33" stroke-linecap="round" fill="none"/>
<g font-family="Liberation Serif, serif" font-size="13.6" fill="#000">
<text x="49.6" y="212.53" text-anchor="end">0.1</text>
<text x="49.6" y="155.37" text-anchor="end">0.2</text>
<text x="49.6" y="98.20" text-anchor="end">0.3</text>
<text x="49.6" y="41.03" text-anchor="end">0.4</text>
<text x="49.6" y="469.78" text-anchor="end">0.1</text>
<text x="49.6" y="412.62" text-anchor="end">0.2</text>
<text x="49.6" y="355.45" text-anchor="end">0.3</text>
<text x="49.6" y="298.28" text-anchor="end">0.4</text>
<text x="49.6" y="727.03" text-anchor="end">0.1</text>
<text x="49.6" y="669.87" text-anchor="end">0.2</text>
<text x="49.6" y="612.70" text-anchor="end">0.3</text>
<text x="49.6" y="555.53" text-anchor="end">0.4</text>
<text x="58.30" y="797.8" text-anchor="middle">0</text>
<text x="96.47" y="797.8" text-anchor="middle">2</text>
<text x="134.64" y="797.8" text-anchor="middle">4</text>
<text x="172.81" y="797.8" text-anchor="middle">6</text>
<text x="210.98" y="797.8" text-anchor="middle">8</text>
<text x="249.15" y="797.8" text-anchor="middle">10</text>
<text x="287.32" y="797.8" text-anchor="middle">12</text>
<text x="325.49" y="797.8" text-anchor="middle">14</text>
<text x="363.66" y="797.8" text-anchor="middle">16</text>
<text x="401.83" y="797.8" text-anchor="middle">18</text>
<text x="249.15" y="819.0" text-anchor="middle" font-style="italic">r/a</text>
<text x="440.00" y="797.8" text-anchor="middle">0</text>
<text x="478.17" y="797.8" text-anchor="middle">2</text>
<text x="516.34" y="797.8" text-anchor="middle">4</text>
<text x="554.51" y="797.8" text-anchor="middle">6</text>
<text x="592.68" y="797.8" text-anchor="middle">8</text>
<text x="630.85" y="797.8" text-anchor="middle">10</text>
<text x="669.02" y="797.8" text-anchor="middle">12</text>
<text x="707.19" y="797.8" text-anchor="middle">14</text>
<text x="745.36" y="797.8" text-anchor="middle">16</text>
<text x="783.53" y="797.8" text-anchor="middle">18</text>
<text x="821.70" y="797.8" text-anchor="middle">20</text>
<text x="630.85" y="819.0" text-anchor="middle" font-style="italic">r/a</text>
</g>
<g font-family="Liberation Serif, serif" font-size="13.35" fill="#000">
<text x="344.88" y="241.12"><tspan font-style="italic">q</tspan> = 1</text>
<text x="726.58" y="241.12"><tspan font-style="italic">q</tspan> = 2/3</text>
<text x="344.88" y="498.37"><tspan font-style="italic">q</tspan> = 3/7</text>
<text x="726.58" y="498.37"><tspan font-style="italic">q</tspan> = 1/4</text>
<text x="344.88" y="755.62"><tspan font-style="italic">q</tspan> = 1/10</text>
<text x="726.58" y="755.62"><tspan font-style="italic">q</tspan> = 1/100</text>
<text x="376.8" y="25.40" text-anchor="end">initial</text>
<text x="376.8" y="39.00" text-anchor="end"><tspan font-style="italic">t</tspan> = 1000<tspan font-style="italic">P</tspan></text>
<text x="376.8" y="52.50" text-anchor="end"><tspan font-style="italic">t</tspan> = 2000<tspan font-style="italic">P</tspan></text>
<text x="376.8" y="66.00" text-anchor="end"><tspan font-style="italic">t</tspan> = 3000<tspan font-style="italic">P</tspan></text>
<text x="376.8" y="79.50" text-anchor="end"><tspan font-style="italic">t</tspan> = 4000<tspan font-style="italic">P</tspan></text>
</g>
<g fill="none" stroke-width="2.50">
<path d="M385.2 20.70 H423.9" stroke="#a0a0a0" stroke-dasharray="24 12"/>
<path d="M385.2 34.30 H423.9" stroke="#0080ff" stroke-dasharray="12 12"/>
<path d="M385.2 47.80 H423.5" stroke="#ff0000" stroke-dasharray="7.2 2.4"/>
<path d="M385.2 61.30 H423.5" stroke="#00c000" stroke-dasharray="2.4 2.4"/>
<path d="M385.2 74.80 H423.9" stroke="#000000"/>
</g>
<g transform="translate(19.90 137.27) rotate(-90)" font-family="Liberation Sans, sans-serif" font-size="12.70" fill="#000">
<path d="M-17.7 -10.5 L-21.3 -4.55 L-17.7 1.4 M-8.9 -10.5 L-5.4 -4.55 L-8.9 1.4" stroke="#000" stroke-width="0.85" fill="none"/>
<text x="-14.00" y="0" text-anchor="middle">σ</text>
<text x="3.50" y="0" text-anchor="middle">/</text>
<text x="13.80" y="0" text-anchor="middle">σ</text>
<text x="19.80" y="3.70" text-anchor="middle" font-size="9.90">0</text>
</g>
<g transform="translate(19.90 394.52) rotate(-90)" font-family="Liberation Sans, sans-serif" font-size="12.70" fill="#000">
<path d="M-17.7 -10.5 L-21.3 -4.55 L-17.7 1.4 M-8.9 -10.5 L-5.4 -4.55 L-8.9 1.4" stroke="#000" stroke-width="0.85" fill="none"/>
<text x="-14.00" y="0" text-anchor="middle">σ</text>
<text x="3.50" y="0" text-anchor="middle">/</text>
<text x="13.80" y="0" text-anchor="middle">σ</text>
<text x="19.80" y="3.70" text-anchor="middle" font-size="9.90">0</text>
</g>
<g transform="translate(19.90 651.77) rotate(-90)" font-family="Liberation Sans, sans-serif" font-size="12.70" fill="#000">
<path d="M-17.7 -10.5 L-21.3 -4.55 L-17.7 1.4 M-8.9 -10.5 L-5.4 -4.55 L-8.9 1.4" stroke="#000" stroke-width="0.85" fill="none"/>
<text x="-14.00" y="0" text-anchor="middle">σ</text>
<text x="3.50" y="0" text-anchor="middle">/</text>
<text x="13.80" y="0" text-anchor="middle">σ</text>
<text x="19.80" y="3.70" text-anchor="middle" font-size="9.90">0</text>
</g>
</svg>
</body></html>
